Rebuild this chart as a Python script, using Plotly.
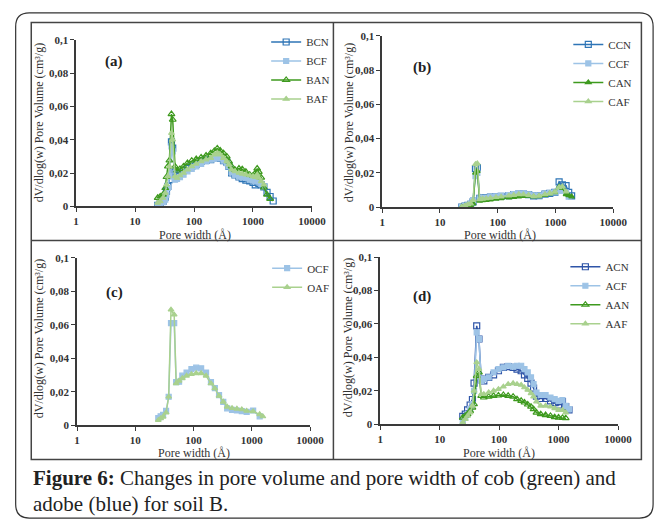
import plotly.graph_objects as go

W, H = 671, 526

# ---------------- data ----------------
# panel (a)
width_a = [24.2, 26.7, 29.7, 32.5, 34.1, 36, 38.2, 41.4, 43.5, 47.6, 51.5, 57.7, 66.4, 77.4, 91.4,
           109, 132, 160, 192, 221, 248, 278, 316, 359, 392, 434, 494, 578, 657, 757, 880, 1000,
           1092, 1177, 1256, 1380, 1530, 1730, 1950, 2200]
BCN = [0.0006, 0.002, 0.003, 0.0055, 0.009, 0.012, 0.016, 0.0387, 0.035, 0.0205, 0.020, 0.020, 0.0215,
       0.0227, 0.024, 0.0254, 0.027, 0.0278, 0.028, 0.029, 0.030, 0.029, 0.0274, 0.0266, 0.024, 0.020,
       0.0188, 0.0176, 0.0166, 0.0157, 0.0153, 0.0143, 0.0129, 0.0153, 0.0137, 0.0129, 0.0117, 0.0084,
       0.0059, 0.0032]
BCF = [0.0005, 0.0015, 0.0025, 0.004, 0.007, 0.011, 0.018, 0.036, 0.033, 0.016, 0.0165, 0.0175, 0.019,
       0.021, 0.0225, 0.024, 0.0255, 0.027, 0.028, 0.0285, 0.0295, 0.029, 0.0275, 0.026, 0.024, 0.0205,
       0.019, 0.018, 0.0175, 0.017, 0.016, 0.0155, 0.015, 0.016, 0.015, 0.0135, 0.012, None, None, None]
BAN = [0.0051, 0.0059, 0.007, 0.011, 0.0176, 0.024, 0.0276, 0.0554, 0.052, 0.024, 0.0215, 0.0225, 0.024,
       0.026, 0.0274, 0.0284, 0.0294, 0.0305, 0.0319, 0.0333, 0.0348, 0.0335, 0.0319, 0.030, 0.027, 0.024,
       0.022, 0.0227, 0.0223, 0.0207, 0.019, 0.0184, 0.020, 0.0227, 0.0207, 0.0172, 0.0113, 0.007,
       0.0045, None]
BAF = [0.002, 0.003, 0.005, 0.008, 0.013, 0.018, 0.024, 0.044, 0.040, 0.018, 0.017, 0.0185, 0.020, 0.022,
       0.024, 0.0255, 0.027, 0.028, 0.029, 0.031, 0.032, 0.031, 0.029, 0.027, 0.025, 0.022, 0.021, 0.020,
       0.0195, 0.019, 0.0185, 0.018, 0.0175, 0.019, 0.017, 0.015, 0.013, None, None, None]

# panel (b)
width_b = [23.9, 27.2, 30.5, 34, 37.5, 41.3, 44.5, 48.9, 55, 63.5, 75, 93.6, 115, 157, 190, 232, 280,
           344, 420, 520, 660, 800, 977, 1160, 1320, 1530, 1700, 1910]
CCN = [0.0, 0.0005, 0.001, 0.0015, 0.003, 0.0225, 0.023, 0.005, 0.0052, 0.0055, 0.0058, 0.006, 0.0063,
       0.0067, 0.0072, 0.0076, 0.0075, 0.0072, 0.0065, 0.0066, 0.0075, 0.008, 0.0085, 0.0147, 0.013,
       0.0125, 0.0085, 0.0065]
CCF = [0.0, 0.0005, 0.001, 0.002, 0.004, 0.018, 0.020, 0.005, 0.0052, 0.0055, 0.006, 0.0062, 0.0065,
       0.007, 0.0075, 0.0079, 0.0078, 0.0074, 0.0068, 0.0068, 0.0075, 0.0082, 0.0085, 0.0095, 0.0095,
       0.0085, 0.006, None]
CAN = [0.0, 0.0003, 0.0006, 0.001, 0.002, 0.020, 0.021, 0.0036, 0.0038, 0.004, 0.0043, 0.0048, 0.0051,
       0.0055, 0.0058, 0.0061, 0.0063, 0.0065, 0.006, 0.0062, 0.007, 0.0078, 0.0086, 0.0118, 0.011,
       0.0074, 0.0068, 0.0061]
CAF = [0.0, 0.0008, 0.0015, 0.002, 0.004, 0.025, 0.0255, 0.0045, 0.0048, 0.005, 0.0053, 0.0057, 0.006,
       0.0066, 0.007, 0.0074, 0.0073, 0.007, 0.0063, 0.0065, 0.0073, 0.008, 0.0088, 0.0115, 0.012, 0.009,
       None, None]

# panel (c)
width_c = [24.8, 27.2, 30, 33.8, 37.4, 41, 46.5, 50.3, 56.4, 64.2, 75.9, 92, 111, 135, 164, 199, 232,
           274, 324, 378, 458, 555, 674, 817, 1056, 1366, 1550]
OCF = [0.0043, 0.0053, 0.0062, 0.0086, 0.017, 0.061, 0.061, 0.0257, 0.026, 0.0296, 0.0315, 0.0335,
       0.0344, 0.034, 0.0315, 0.0257, 0.0222, 0.018, 0.014, 0.0101, 0.0092, 0.0088, 0.0084, 0.008,
       0.0088, 0.0053, None]
OAF = [0.003, 0.004, 0.005, 0.0075, 0.017, 0.069, 0.066, 0.025, 0.0265, 0.028, 0.0295, 0.0305, 0.031,
       0.031, 0.0295, 0.025, 0.022, 0.0175, 0.014, 0.011, 0.0102, 0.0098, 0.0094, 0.0085, 0.0082, 0.0065,
       0.0052]

# panel (d)
width_d = [24.5, 27, 29.5, 32.6, 35.6, 37.9, 42, 45.8, 50, 55.3, 66.8, 80.7, 97.5, 118, 142, 172, 200,
           235, 267, 303, 344, 380, 425, 501, 605, 731, 860, 1000, 1164, 1320, 1497]
ACN = [0.0047, 0.006, 0.0086, 0.0115, 0.0148, 0.0246, 0.0589, 0.051, 0.027, 0.026, 0.028, 0.0296, 0.032,
       0.034, 0.0345, 0.034, 0.033, 0.032, 0.0296, 0.0275, 0.0246, 0.0216, 0.0168, 0.0154, 0.0154, 0.014,
       0.0129, 0.0115, 0.0135, 0.0105, 0.0086]
ACF = [0.002, 0.004, 0.006, 0.009, 0.012, 0.020, 0.055, 0.051, 0.026, 0.027, 0.028, 0.031, 0.033, 0.034,
       0.035, 0.0345, 0.035, 0.035, 0.033, 0.031, 0.028, 0.024, 0.019, 0.0175, 0.0175, 0.016, 0.015,
       0.014, 0.0145, 0.011, 0.009]
AAN = [0.004, 0.005, 0.006, 0.008, 0.010, 0.012, 0.029, 0.031, 0.017, 0.016, 0.0165, 0.017, 0.0172,
       0.0175, 0.017, 0.0165, 0.015, 0.014, 0.013, 0.0118, 0.0105, 0.009, 0.007, 0.006, 0.0055, 0.005,
       0.0042, 0.004, 0.0038, 0.0036, None]
AAF = [0.001, 0.003, 0.005, 0.007, 0.011, 0.020, 0.037, 0.033, 0.018, 0.018, 0.019, 0.020, 0.021,
       0.0225, 0.024, 0.0245, 0.024, 0.0235, 0.022, 0.0205, 0.0185, 0.0165, 0.0135, 0.011, 0.011, 0.0105,
       0.0095, 0.0085, 0.0085, 0.007, None]

x_ticks = [1, 10, 100, 1000, 10000]
x_tick_text = ["1", "10", "100", "1000", "10000"]
y_ticks = [0, 0.02, 0.04, 0.06, 0.08, 0.1]
y_tick_text = ["0", "0,02", "0,04", "0,06", "0,08", "0,1"]
panel_labels = ["(a)", "(b)", "(c)", "(d)"]
x_title = "Pore width (Å)"
y_title = "dV/dlog(w) Pore Volume (cm³/g)"
caption_1 = "<b>Figure 6:</b> Changes in pore volume and pore width of cob (green) and"
caption_2 = "adobe (blue) for soil B."

# ---------------- styles ----------------
SERIF = "Liberation Serif, 'Times New Roman', 'DejaVu Serif', serif"
TXT = "#333333"
AX = "#3a3a3a"
DARK_BLUE = "#2E75B6"
DEEP_BLUE = "#2F55A8"
LIGHT_BLUE = "#9DC3E6"
DARK_GREEN = "#3E9A1E"
LIGHT_GREEN = "#A9D18E"


def px(x):
    return x / W


def py(y):
    return 1 - y / H


fig = go.Figure()

styles = {
    "N_blue": dict(color=DARK_BLUE, symbol="square-open", size=6),
    "F_blue": dict(color=LIGHT_BLUE, symbol="square", size=5),
    "N_green": dict(color=DARK_GREEN, symbol="triangle-up-open", size=6),
    "F_green": dict(color=LIGHT_GREEN, symbol="triangle-up", size=5),
    "N_green_fill": dict(color=DARK_GREEN, symbol="triangle-up", size=5),
    "N_deep": dict(color=DEEP_BLUE, symbol="square-open", size=6),
}


def add(xs, ys, name, st, axis_id, legend):
    s = styles[st]
    xa = "x" if axis_id == 1 else f"x{axis_id}"
    ya = "y" if axis_id == 1 else f"y{axis_id}"
    fig.add_trace(go.Scatter(
        x=xs, y=ys, name=name, mode="lines+markers",
        line=dict(color=s["color"], width=1.5),
        marker=dict(symbol=s["symbol"], size=s["size"], color=s["color"],
                    line=dict(color=s["color"], width=1.2)),
        xaxis=xa, yaxis=ya, legend=legend, connectgaps=False,
    ))


add(width_a, BCN, "BCN", "N_blue", 1, "legend")
add(width_a, BCF, "BCF", "F_blue", 1, "legend")
add(width_a, BAN, "BAN", "N_green", 1, "legend")
add(width_a, BAF, "BAF", "F_green", 1, "legend")

add(width_b, CCN, "CCN", "N_blue", 2, "legend2")
add(width_b, CCF, "CCF", "F_blue", 2, "legend2")
add(width_b, CAN, "CAN", "N_green_fill", 2, "legend2")
add(width_b, CAF, "CAF", "F_green", 2, "legend2")

add(width_c, OCF, "OCF", "F_blue", 3, "legend3")
add(width_c, OAF, "OAF", "F_green", 3, "legend3")

add(width_d, ACN, "ACN", "N_deep", 4, "legend4")
add(width_d, ACF, "ACF", "F_blue", 4, "legend4")
add(width_d, AAN, "AAN", "N_green", 4, "legend4")
add(width_d, AAF, "AAF", "F_green", 4, "legend4")

# panel geometry (pixels): x-left, x-right, y-bottom(0), y-top(0.1)
geo = {
    1: (75, 317, 205, 34.6),
    2: (389, 626, 205.7, 30.7),
    3: (76, 315, 429, 257.7),
    4: (387, 631, 428, 257),
}

tickfont = dict(family=SERIF, size=11, color=TXT, weight="bold")
layout = dict(
    width=W, height=H, margin=dict(l=0, r=0, t=0, b=0),
    paper_bgcolor="white", plot_bgcolor="white",
    font=dict(family=SERIF, color=TXT),
)
for i, (xl, xr, yb, yt) in geo.items():
    sx = "" if i == 1 else str(i)
    layout[f"xaxis{sx}"] = dict(
        domain=[px(xl), px(xr)], anchor=f"y{sx}", type="log", range=[0, 4],
        tickvals=x_ticks, ticktext=x_tick_text, showgrid=False, zeroline=False,
        showline=True, linecolor=AX, linewidth=1.5, ticks="outside", ticklen=4,
        tickcolor=AX, tickwidth=1.2, tickfont=tickfont,
    )
    layout[f"yaxis{sx}"] = dict(
        domain=[py(yb), py(yt)], anchor=f"x{sx}", range=[0, 0.1],
        tickvals=y_ticks, ticktext=y_tick_text, showgrid=False, zeroline=False,
        showline=True, linecolor=AX, linewidth=1.5, ticks="outside", ticklen=4,
        tickcolor=AX, tickwidth=1.2, tickfont=tickfont,
    )

legend_pos = {"legend": (270, 22), "legend2": (580, 24.5), "legend3": (271, 253.5), "legend4": (577, 252)}
for key, (lx, ly) in legend_pos.items():
    layout[key] = dict(
        x=px(lx), y=py(ly), xanchor="left", yanchor="top", bgcolor="rgba(0,0,0,0)",
        font=dict(family=SERIF, size=11, color=TXT), itemwidth=30,
    )
fig.update_layout(**layout)

annotations = []


def note(text, x, y, size, angle=0, xanchor="center", color=TXT):
    annotations.append(dict(text=text, x=px(x), y=py(y), xref="paper", yref="paper",
                            xanchor=xanchor, yanchor="middle", showarrow=False, textangle=angle,
                            font=dict(family=SERIF, size=size, color=color)))


label_pos = [(114, 57), (430, 63), (114, 293), (430, 297)]
for lab, (lx, ly) in zip(panel_labels, label_pos):
    note(f"<b>{lab}</b>", lx, ly, 15, color="#222")
ytitle_pos = [(37, 120), (355, 120), (37, 341), (354, 340)]
for (lx, ly) in ytitle_pos:
    note(y_title, lx, ly, 12, angle=-90)
xtitle_pos = [(197, 234.5), (510, 234.5), (196, 457.5), (509, 457.5)]
for (lx, ly) in xtitle_pos:
    note(x_title, lx, ly, 12)
note(caption_1, 29, 483, 21, xanchor="left", color="#222")
note(caption_2, 29, 510, 21, xanchor="left", color="#222")
fig.update_layout(annotations=annotations)

# frames
shapes = []
x0, y0, x1, y1, r = 13, 7, 667, 524, 14
path = (f"M {px(x0 + r)},{py(y0)} L {px(x1 - r)},{py(y0)} "
        f"Q {px(x1)},{py(y0)} {px(x1)},{py(y0 + r)} L {px(x1)},{py(y1 - r)} "
        f"Q {px(x1)},{py(y1)} {px(x1 - r)},{py(y1)} L {px(x0 + r)},{py(y1)} "
        f"Q {px(x0)},{py(y1)} {px(x0)},{py(y1 - r)} L {px(x0)},{py(y0 + r)} "
        f"Q {px(x0)},{py(y0)} {px(x0 + r)},{py(y0)} Z")
shapes.append(dict(type="path", path=path, xref="paper", yref="paper",
                   line=dict(color="#333", width=1.2)))
shapes.append(dict(type="rect", x0=px(29), x1=px(655), y0=py(464), y1=py(17), xref="paper", yref="paper",
                   line=dict(color="#444", width=1.5)))
shapes.append(dict(type="line", x0=px(339), x1=px(339), y0=py(464), y1=py(17), xref="paper", yref="paper",
                   line=dict(color="#444", width=1.5)))
shapes.append(dict(type="line", x0=px(29), x1=px(655), y0=py(240), y1=py(240), xref="paper", yref="paper",
                   line=dict(color="#444", width=1.5)))
fig.update_layout(shapes=shapes)

fig.write_html("out.html")
